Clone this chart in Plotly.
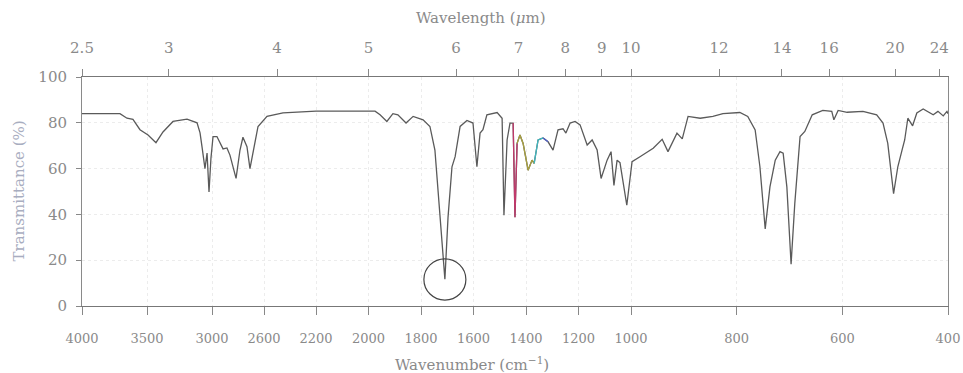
import numpy as np
import plotly.graph_objects as go

# ---- data ----
wavenumber = [4000, 3708, 3654, 3608, 3554, 3492, 3431, 3377, 3300, 3192, 3115, 3092, 3077, 3054,
              3038, 3023, 3008, 2992, 2962, 2938, 2915, 2885, 2862, 2815, 2785, 2762, 2731, 2708,
              2685, 2646, 2577, 2454, 2200, 1975, 1956, 1930, 1907, 1888, 1857, 1830, 1792, 1766,
              1747, 1728, 1709, 1697, 1682, 1670, 1651, 1625, 1602, 1587, 1575, 1564, 1549, 1510,
              1491, 1484, 1472, 1461, 1449, 1442, 1434, 1423, 1411, 1392, 1377, 1369, 1354, 1335,
              1316, 1297, 1278, 1259, 1248, 1232, 1213, 1194, 1167, 1148, 1129, 1114, 1091, 1076,
              1065, 1053, 1042, 1016, 998, 983, 958, 941, 930, 913, 903, 892, 869, 845, 826, 794,
              779, 765, 756, 746, 737, 727, 718, 712, 705, 697, 690, 680, 671, 657, 637, 620, 616,
              608, 591, 561, 535, 523, 514, 503, 495, 487, 482, 476, 467, 459, 447, 428, 419, 409,
              402, 400]
transmittance = [84.0, 84.0, 82.0, 81.5, 77.0, 74.7, 71.3, 76.0, 80.6, 81.6, 80.0, 75.6, 69.6, 60.0,
                 66.8, 49.8, 64.6, 74.0, 74.0, 71.2, 68.6, 69.0, 65.9, 55.7, 68.0, 73.7, 69.6, 60.0,
                 66.7, 78.4, 82.8, 84.3, 85.1, 85.1, 83.5, 80.6, 84.0, 83.5, 79.9, 82.8, 81.3, 78.4,
                 68.1, 41.8, 11.7, 38.8, 60.8, 65.2, 78.4, 81.0, 79.9, 60.8, 75.5, 77.0, 83.5, 84.5,
                 82.0, 39.6, 72.5, 79.9, 79.9, 38.8, 71.0, 74.7, 71.0, 59.3, 63.7, 62.3, 72.5, 73.4,
                 71.7, 68.1, 76.9, 77.4, 75.5, 79.9, 80.6, 79.1, 70.3, 72.5, 68.1, 55.7, 63.7, 67.4,
                 52.7, 63.7, 62.6, 44.0, 63.0, 65.2, 68.9, 72.8, 67.4, 75.5, 73.0, 82.8, 82.0, 82.8,
                 84.0, 84.5, 82.8, 76.9, 60.8, 33.7, 52.0, 63.7, 67.4, 66.7, 52.0, 18.3, 44.7, 74.0,
                 76.2, 83.5, 85.4, 85.0, 81.3, 85.4, 84.6, 85.0, 83.5, 79.9, 71.0, 49.1, 60.8, 68.1,
                 72.5, 82.0, 78.7, 84.3, 86.0, 83.5, 85.0, 83.0, 85.0, 84.0]

wn_ticks = [4000, 3500, 3000, 2600, 2200, 2000, 1800, 1600, 1400, 1200, 1000, 800, 600, 400]
wl_ticks = [2.5, 3, 4, 5, 6, 7, 8, 9, 10, 12, 14, 16, 20, 24]
y_ticks = [0, 20, 40, 60, 80, 100]

# colour-shifted part of the scanned trace (wavenumber ranges)
colored_parts = [(1452, 1434, "#c0396b"), (1434, 1369, "#a8a040"), (1369, 1335, "#40b8c0"),
                 (1335, 1300, "#5060c8")]

# ---- piecewise-linear wavenumber scale of the chart paper ----
scale_wn = [4000, 2200, 1000, 400]
scale_pos = [82, 316, 631, 948]


def tx(w):
    w = np.asarray(w, dtype=float)
    return np.interp(-w, [-v for v in scale_wn], scale_pos)


grey = "#5a5a5a"
label = "#8a8a8a"
font = "DejaVu Serif"

wn = np.array(wavenumber)
tr = np.array(transmittance)

fig = go.Figure()
fig.add_trace(go.Scatter(x=tx(wn), y=tr, mode="lines", line=dict(color=grey, width=1.3),
                         hoverinfo="skip", showlegend=False))
for hi, lo, col in colored_parts:
    m = (wn <= hi) & (wn >= lo)
    fig.add_trace(go.Scatter(x=tx(wn[m]), y=tr[m], mode="lines", line=dict(color=col, width=1.3),
                             hoverinfo="skip", showlegend=False))
# invisible trace for the top (wavelength) axis
fig.add_trace(go.Scatter(x=[82, 948], y=[0, 0], xaxis="x2", mode="markers",
                         marker=dict(opacity=0), hoverinfo="skip", showlegend=False))

# circle around the carbonyl band
cx = float(tx(1709))
fig.add_shape(type="circle", xref="x", yref="y", x0=cx - 21, x1=cx + 21, y0=2.6, y1=20.6,
              line=dict(color="#444444", width=1.2))

wl_pos = tx([1e4 / v for v in wl_ticks])

fig.update_layout(
    width=963, height=373,
    margin=dict(l=82, r=15, t=77, b=67, autoexpand=False),
    paper_bgcolor="white", plot_bgcolor="white",
    font=dict(family=font, color=label, size=13),
    xaxis=dict(range=[82, 948], tickvals=list(tx(wn_ticks)), ticktext=[str(v) for v in wn_ticks],
               showline=True, linecolor="#777777", linewidth=1, ticks="outside", ticklen=8,
               tickcolor="#888888", showgrid=True, gridcolor="#ececec", griddash="dot",
               zeroline=False, automargin=False, ticklabelstandoff=12,
               tickfont=dict(size=13, color=label)),
    xaxis2=dict(range=[82, 948], overlaying="x", side="top", tickvals=list(wl_pos),
                ticktext=[str(v) for v in wl_ticks], showline=True, linecolor="#777777",
                ticks="outside", ticklen=7, tickcolor="#888888", showgrid=False, zeroline=False,
                automargin=False, ticklabelstandoff=10, tickfont=dict(size=15, color=label)),
    yaxis=dict(range=[0, 100], tickvals=y_ticks, ticktext=[str(v) for v in y_ticks],
               showline=True, mirror=True, linecolor="#8a8a8a", ticks="outside", ticklen=5,
               tickcolor="#888888", showgrid=True, gridcolor="#ececec", griddash="dot",
               zeroline=False, automargin=False, ticklabelstandoff=6,
               tickfont=dict(size=15, color=label)),
)

fig.add_annotation(text="Wavelength (<i>μ</i>m)", xref="paper", yref="paper", x=0.46, y=1.0,
                   yanchor="middle", yshift=59, showarrow=False,
                   font=dict(size=15, color=label, family=font))
fig.add_annotation(text="Wavenumber (cm<sup>−1</sup>)", xref="paper", yref="paper", x=0.45, y=0,
                   yanchor="middle", yshift=-58, showarrow=False,
                   font=dict(size=15, color=label, family=font))
fig.add_annotation(text="Transmittance (%)", xref="paper", yref="paper", x=0, y=0.5,
                   xanchor="center", xshift=-64, textangle=-90, showarrow=False,
                   font=dict(size=15, color="#a8adc0", family=font))

# remove the browser's default 8px page margin so the figure fills the window exactly
fig.write_html("out.html", config={"displayModeBar": False},
               post_script="document.body.style.margin='0';"
                           "document.body.style.overflow='hidden';")
